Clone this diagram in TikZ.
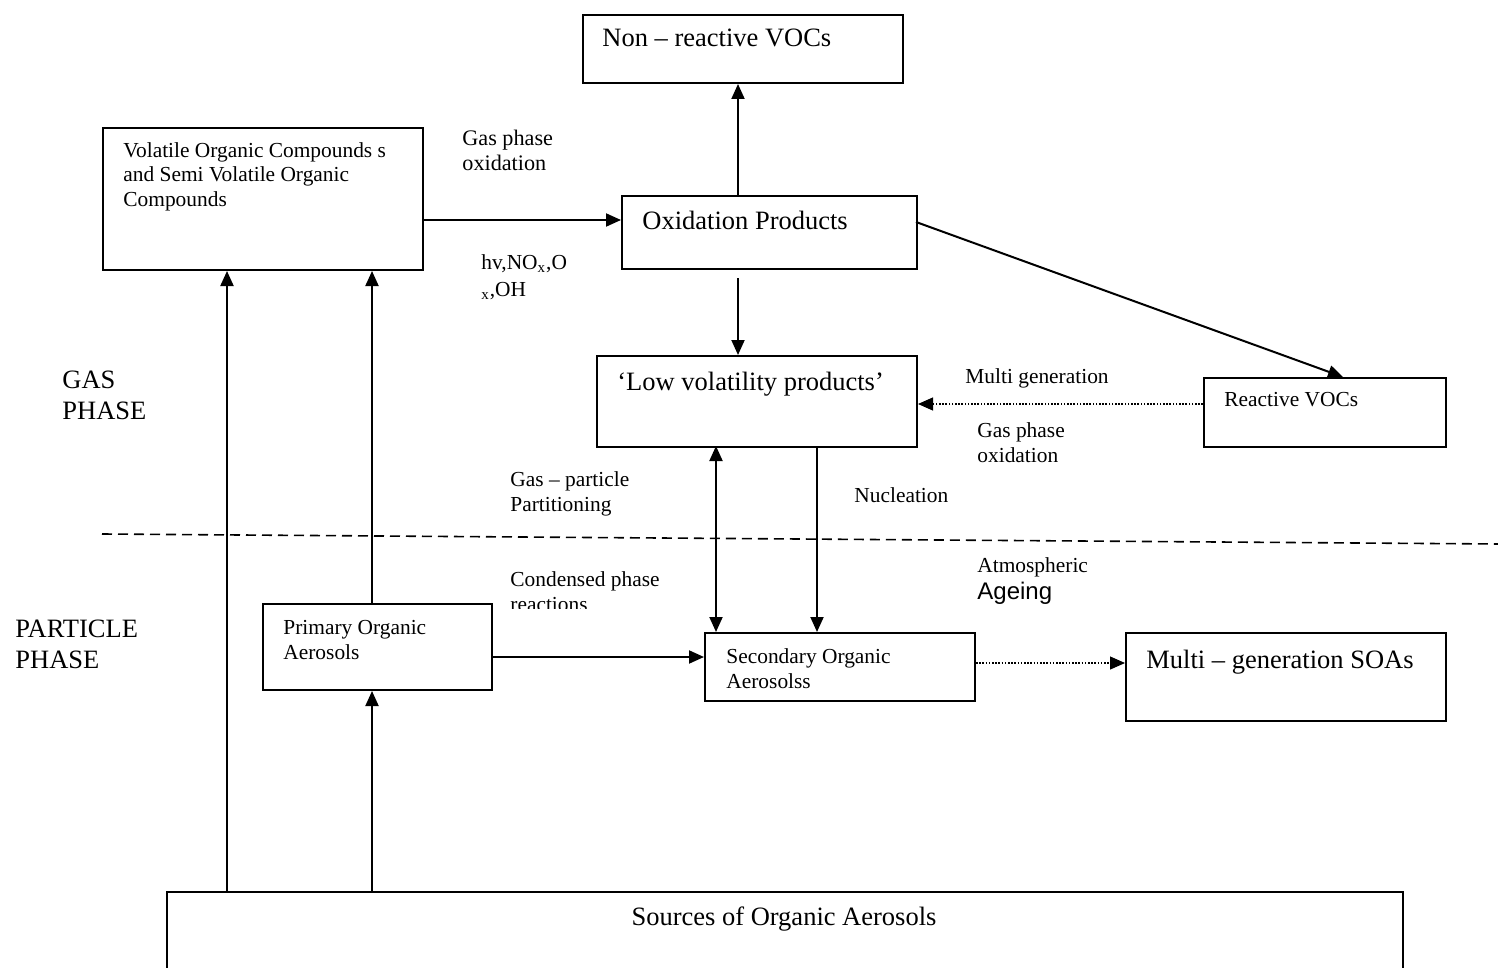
\documentclass[tikz,border=0pt]{standalone}
\usepackage{fontspec}
\setmainfont{Liberation Serif}
\newfontfamily\arialfont{Liberation Sans}
\usetikzlibrary{arrows.meta}
\newcommand\fsBig{\fontsize{13.25}{15.5}\selectfont}
\newcommand\fsSmall{\fontsize{10.7}{12.25}\selectfont}
\newcommand\fsMid{\fontsize{11.1}{13}\selectfont}
\begin{document}
\begin{tikzpicture}[x=0.5pt,y=-0.5pt,
  box/.style={draw, line width=1pt, inner sep=0pt, anchor=north west},
  lbl/.style={inner sep=0pt, anchor=base west, align=left},
  arr/.style={line width=1pt, -{Triangle[length=7.5pt,width=6.5pt]}},
  dblarr/.style={line width=1pt, {Triangle[length=7.5pt,width=6.5pt]}-{Triangle[length=7.5pt,width=6.5pt]}},
  dotarr/.style={line width=0.6pt, dash pattern=on 0.8pt off 0.8pt, -{Triangle[length=7.5pt,width=6.5pt]}},
  phase/.style={line width=0.8pt, dash pattern=on 5pt off 3pt}]
\useasboundingbox (0,0) rectangle (1498,968);
% boxes
\node[box, minimum width=160pt, minimum height=34pt] (nr) at (582,14) {};
\node[box, minimum width=160pt, minimum height=71pt] (voc) at (102,127) {};
\node[box, minimum width=147.5pt, minimum height=36.5pt] (ox) at (621,195) {};
\node[box, minimum width=160pt, minimum height=45.5pt] (lv) at (596,355) {};
\node[box, minimum width=121pt, minimum height=34.5pt] (rv) at (1203,377) {};
\node[box, minimum width=114.5pt, minimum height=43pt] (poa) at (262,603) {};
\node[box, minimum width=135pt, minimum height=34pt] (soa) at (704,632) {};
\node[box, minimum width=160pt, minimum height=44pt] (ms) at (1125,632) {};
\node[box, minimum width=618pt, minimum height=60pt] (src) at (166,891) {};
% box texts (base = baseline of last line)
\node[lbl, font=\fsBig] (tnr) at (602,47) {Non -- reactive VOCs};
\node[lbl, font=\fsSmall] (tvoc) at (123,206) {Volatile Organic Compounds s\\and Semi Volatile Organic\\Compounds};
\node[lbl, font=\fsBig] (tox) at (642,230) {Oxidation Products};
\node[lbl, font=\fsBig] (tlv) at (617,390) {`Low volatility products'};
\node[lbl, font=\fsSmall] (trv) at (1224,406) {Reactive VOCs};
\node[lbl, font=\fsSmall] (tpoa) at (283,659) {Primary Organic\\Aerosols};
\node[lbl, font=\fsSmall] (tsoa) at (726,688) {Secondary Organic\\Aerosolss};
\node[lbl, font=\fsBig] (tms) at (1146,668) {Multi -- generation SOAs};
\node[inner sep=0pt, anchor=base, font=\fsBig] (tsrc) at (784,925) {Sources of Organic Aerosols};
% free labels
\node[lbl, font=\fsMid] (gpo1) at (462,171) {Gas phase\\oxidation};
\node[lbl, font=\fsSmall] (hv) at (481,296) {hv,NO\textsubscript{x},O\\[1pt]\textsubscript{x},OH};
\node[lbl, font=\fsBig] (gas) at (62,419) {GAS\\PHASE};
\node[lbl, font=\fsBig] (part) at (15,668) {PARTICLE\\PHASE};
\node[lbl, font=\fsSmall] (mg) at (965,383) {Multi generation};
\node[lbl, font=\fsSmall] (gpo2) at (977,462) {Gas phase\\oxidation};
\node[lbl, font=\fsSmall] (gpp) at (510,511) {Gas -- particle\\Partitioning};
\node[lbl, font=\fsSmall] (nuc) at (854,502) {Nucleation};
\begin{scope}
\clip (500,560) rectangle (700,608);
\node[lbl, font=\fsSmall] (cpr) at (510,611) {Condensed phase\\reactions};
\end{scope}
\node[lbl, font=\fsSmall] (atm) at (977,572) {Atmospheric};
\node[lbl, font=\arialfont\fontsize{12}{14}\selectfont] (age) at (977,599) {Ageing};
% phase divider
\coordinate (dl) at (102,534);
\coordinate (dr) at (1498,544);
\draw[phase] (dl) -- (dr);
% connectors
\draw[arr] (voc.east |- 0,220) -- (ox.west |- 0,220);
\draw[arr] (ox.north -| 738,0) -- (nr.south -| 738,0);
\coordinate (oxb) at (738,278);
\draw[arr] (oxb) -- (oxb |- lv.north);
\coordinate (oxr) at (916,222);
\coordinate (rvt) at (1343,377);
\draw[arr] (oxr) -- (rvt);
\draw[dotarr] (rv.west |- 0,404) -- (lv.east |- 0,404);
\coordinate (pp) at (716,446);
\draw[dblarr] (pp) -- (pp |- soa.north);
\coordinate (nu) at (817,446);
\draw[arr] (nu) -- (nu |- soa.north);
\draw[arr] (poa.east |- 0,657) -- (soa.west |- 0,657);
\draw[dotarr] (soa.east |- 0,663) -- (ms.west |- 0,663);
\coordinate (s1) at (227,891);
\draw[arr] (s1) -- (s1 |- voc.south);
\coordinate (s2) at (372,891);
\draw[arr] (s2) -- (s2 |- poa.south);
\coordinate (s3) at (372,603);
\draw[arr] (s3) -- (s3 |- voc.south);
\end{tikzpicture}
\end{document}
